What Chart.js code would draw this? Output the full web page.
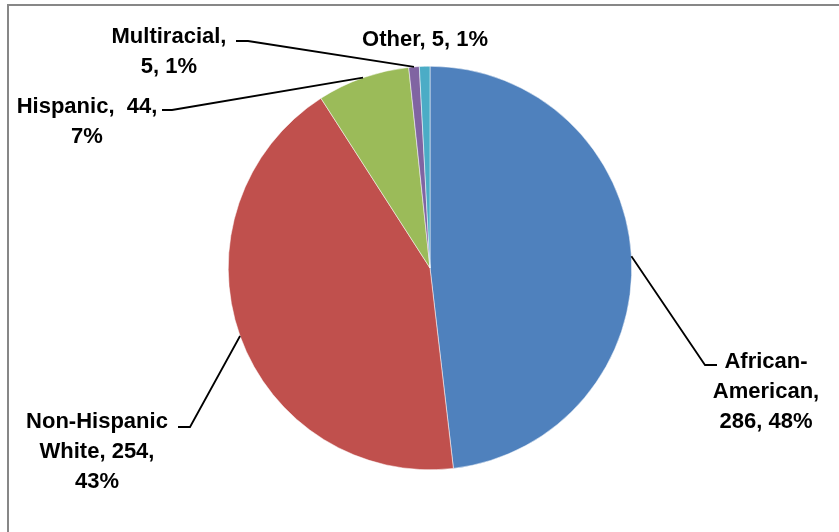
<!DOCTYPE html>
<html lang="en">
<head>
    <meta charset="UTF-8">
    <title>Population by Race/Ethnicity</title>
    <style>
        body {
            margin: 0;
            padding: 0;
            background-color: #ffffff;
        }
        #wrap {
            width: 839px;
            height: 532px;
        }
    </style>
</head>
<body>
    <div id="wrap">
        <canvas id="pieChart" width="839" height="532"></canvas>
    </div>

    <script src="https://cdn.jsdelivr.net/npm/chart.js"></script>
    <script>
        const categories = ['African-American', 'Non-Hispanic White', 'Hispanic', 'Multiracial', 'Other'];
        const counts = [286, 254, 44, 5, 5];
        const sliceColors = ['#4F81BD', '#C0504D', '#9BBB59', '#8064A2', '#4BACC6'];

        const total = counts.reduce((a, b) => a + b, 0);
        const pct = counts.map(v => Math.round(v / total * 100) + '%');

        // where each label block sits, and how its text wraps
        const labelSpots = [
            { x: 766, y: 362, lines: ['African-', 'American,', counts[0] + ', ' + pct[0]], elbow: [705, 365, 717] },
            { x: 97, y: 422, lines: ['Non-Hispanic', 'White, ' + counts[1] + ',', pct[1]], elbow: [190, 427, 178] },
            { x: 87, y: 107, lines: ['Hispanic,  ' + counts[2] + ',', pct[2]], elbow: [172, 110, 162] },
            { x: 169, y: 37, lines: ['Multiracial,', counts[3] + ', ' + pct[3]], elbow: [248, 41, 236] },
            { x: 425, y: 40, lines: ['Other, ' + counts[4] + ', ' + pct[4]], elbow: null }
        ];

        const frame = {
            id: 'frame',
            beforeDraw(chart) {
                const ctx = chart.ctx;
                ctx.save();
                ctx.strokeStyle = '#878787';
                ctx.lineWidth = 2;
                ctx.beginPath();
                ctx.moveTo(8, chart.height);
                ctx.lineTo(8, 5);
                ctx.lineTo(chart.width, 5);
                ctx.stroke();
                ctx.restore();
            }
        };

        const sliceLabels = {
            id: 'sliceLabels',
            afterDatasetsDraw(chart) {
                const ctx = chart.ctx;
                const arcs = chart.getDatasetMeta(0).data;
                ctx.save();
                arcs.forEach((arc, i) => {
                    const spot = labelSpots[i];
                    const mid = (arc.startAngle + arc.endAngle) / 2;
                    const ax = arc.x + Math.cos(mid) * arc.outerRadius;
                    const ay = arc.y + Math.sin(mid) * arc.outerRadius;
                    if (spot.elbow) {
                        ctx.strokeStyle = '#000000';
                        ctx.lineWidth = 1.8;
                        ctx.beginPath();
                        ctx.moveTo(ax, ay);
                        ctx.lineTo(spot.elbow[0], spot.elbow[1]);
                        ctx.lineTo(spot.elbow[2], spot.elbow[1]);
                        ctx.stroke();
                    }
                    ctx.fillStyle = '#000000';
                    ctx.font = 'bold 22px "Liberation Sans", Arial, sans-serif';
                    ctx.textAlign = 'center';
                    ctx.textBaseline = 'middle';
                    spot.lines.forEach((line, k) => {
                        ctx.fillText(line, spot.x, spot.y + k * 30);
                    });
                });
                ctx.restore();
            }
        };

        new Chart(document.getElementById('pieChart'), {
            type: 'pie',
            data: {
                labels: categories,
                datasets: [{
                    data: counts,
                    backgroundColor: sliceColors,
                    borderColor: '#ffffff',
                    borderWidth: 0.5
                }]
            },
            options: {
                responsive: false,
                animation: false,
                layout: {
                    padding: { top: 66, bottom: 62, left: 228, right: 207 }
                },
                plugins: {
                    legend: { display: false },
                    tooltip: { enabled: false }
                }
            },
            plugins: [frame, sliceLabels]
        });
    </script>
</body>
</html>
